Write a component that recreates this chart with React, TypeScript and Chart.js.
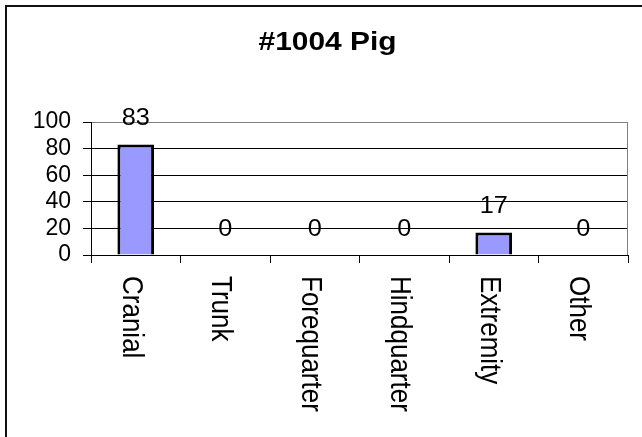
import React, { useEffect, useRef } from "react";
import { Chart, registerables } from "chart.js";

Chart.register(...registerables);

const TITLE = "#1004 Pig";
const categories = ["Cranial", "Trunk", "Forequarter", "Hindquarter", "Extremity", "Other"];
const values = [83, 0, 0, 0, 17, 0];
const yTicks = [0, 20, 40, 60, 80, 100];

const FONT = "'Liberation Sans', Arial, sans-serif";

const decorPlugin = {
  id: "decor",
  beforeDraw(chart: any) {
    const ctx = chart.ctx;
    ctx.save();
    ctx.fillStyle = "#ffffff";
    ctx.fillRect(0, 0, chart.width, chart.height);
    ctx.restore();
  },
  afterDraw(chart: any) {
    const ctx = chart.ctx;
    const area = chart.chartArea;
    const xScale = chart.scales.x;
    ctx.save();
    // outer frame (left & top edges visible)
    ctx.fillStyle = "#111111";
    ctx.fillRect(5, 5, 642, 2);
    ctx.fillRect(5, 5, 2, 437);
    // plot area right border
    ctx.strokeStyle = "#808080";
    ctx.lineWidth = 1;
    ctx.beginPath();
    ctx.moveTo(Math.round(area.right) - 0.5, area.top);
    ctx.lineTo(Math.round(area.right) - 0.5, area.bottom);
    ctx.stroke();

    ctx.fillStyle = "#000";
    ctx.textBaseline = "alphabetic";

    // title
    ctx.font = `bold 26px ${FONT}`;
    ctx.textAlign = "center";
    ctx.save();
    ctx.translate(327.5, 50);
    ctx.scale(1.15, 1);
    ctx.fillText(TITLE, 0, 0);
    ctx.restore();

    // data labels
    const meta = chart.getDatasetMeta(0);
    ctx.font = `23px ${FONT}`;
    meta.data.forEach((el: any, i: number) => {
      ctx.save();
      ctx.translate(el.x, el.y - 19.5);
      ctx.scale(1.1, 1);
      ctx.fillText(String(values[i]), 0, 0);
      ctx.restore();
    });

    // rotated category labels (reading top-to-bottom)
    ctx.font = `26px ${FONT}`;
    ctx.textAlign = "left";
    categories.forEach((c, i) => {
      const x = xScale.getPixelForValue(i);
      ctx.save();
      ctx.translate(x - 13, 276);
      ctx.rotate(Math.PI / 2);
      ctx.scale(1, 1.1);
      ctx.fillText(c, 0, 0);
      ctx.restore();
    });
    ctx.restore();
  },
};

export default function App() {
  const ref = useRef<HTMLCanvasElement | null>(null);
  useEffect(() => {
    document.body.style.margin = "0";
    const canvas = ref.current!;
    const chart = new Chart(canvas, {
      type: "bar",
      data: {
        labels: categories,
        datasets: [
          {
            data: values,
            backgroundColor: "#9999FF",
            borderColor: "#000000",
            borderWidth: 3,
            categoryPercentage: 1,
            barPercentage: 0.41,
          },
        ],
      },
      options: {
        responsive: false,
        animation: false,
        devicePixelRatio: 1,
        layout: { padding: { top: 122, left: 13, right: 14, bottom: 0 } },
        plugins: {
          legend: { display: false },
          title: { display: false },
          tooltip: { enabled: false },
        },
        scales: {
          x: {
            type: "category",
            offset: true,
            grid: {
              offset: true,
              drawOnChartArea: false,
              drawTicks: true,
              tickLength: 8,
              color: "#000",
              tickColor: "#000",
            },
            border: { color: "#000", width: 1 },
            ticks: { display: false },
            afterFit(scale: any) {
              scale.height = 182;
              scale.paddingLeft = 0;
              scale.paddingRight = 0;
            },
          },
          y: {
            min: 0,
            max: 100,
            afterBuildTicks(scale: any) {
              scale.ticks = yTicks.map((v) => ({ value: v }));
            },
            grid: {
              color: (c: any) => (c.tick && c.tick.value === 100 ? "#808080" : "#000"),
              tickColor: "#000",
              tickLength: 8,
              lineWidth: 1,
            },
            border: { color: "#000", width: 1 },
            ticks: {
              color: "#000",
              padding: 12,
              autoSkip: false,
              font: { family: FONT, size: 23 },
            },
            afterFit(scale: any) {
              scale.width = 78;
              scale.paddingTop = 0;
              scale.paddingBottom = 0;
            },
          },
        },
      },
      plugins: [decorPlugin],
    });
    return () => chart.destroy();
  }, []);
  return (
    <canvas
      ref={ref}
      width={642}
      height={437}
      style={{ display: "block", width: 642, height: 437 }}
    />
  );
}
